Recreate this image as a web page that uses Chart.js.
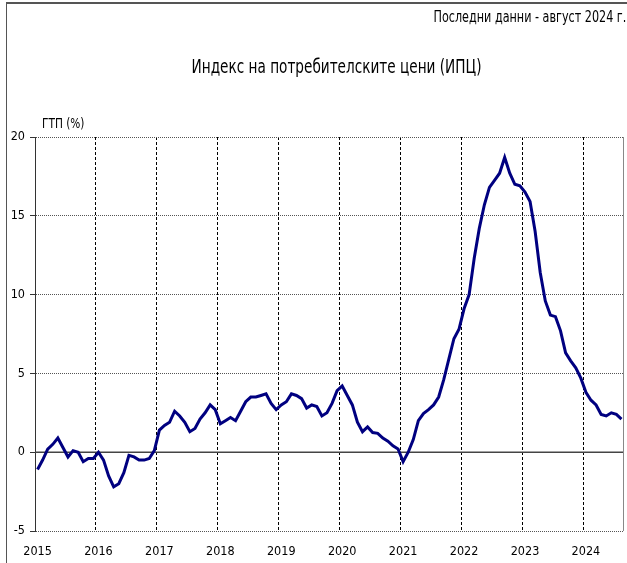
<!DOCTYPE html>
<html>
<head>
<meta charset="utf-8">
<script src="https://cdn.jsdelivr.net/npm/chart.js@4/dist/chart.umd.min.js"></script>
<style>
  html, body { margin: 0; padding: 0; background: #fff; }
  #wrap { position: relative; width: 627px; height: 563px; overflow: hidden; background: #fff; }
  #frame { position: absolute; left: 6px; top: 2px; width: 700px; height: 700px;
           border-left: 1px solid #555; border-top: 2px solid #555; }
  canvas { position: absolute; left: 0; top: 0; }
  .txt { position: absolute; white-space: nowrap; line-height: 1; color: #000;
         font-family: "DejaVu Sans Condensed", "DejaVu Sans", sans-serif; }
  #note { right: 1px; top: 10px; font-size: 15px; transform: scaleX(0.83); transform-origin: 100% 50%; }
  #title { left: 0; width: 673px; text-align: center; top: 56px; font-size: 20px; transform: scaleX(0.758); transform-origin: 50% 50%; }
  #unit { left: 42px; top: 117px; font-size: 13.5px; transform: scaleX(0.87); transform-origin: 0 50%; }
</style>
</head>
<body>
<div id="wrap">
  <div id="frame"></div>
  <canvas id="c" width="627" height="563"></canvas>
  <div class="txt" id="note">Последни данни - август 2024 г.</div>
  <div class="txt" id="title">Индекс на потребителските цени (ИПЦ)</div>
  <div class="txt" id="unit">ГТП (%)</div>
</div>
<script>
// Year labels (ticks) and monthly y/y CPI values (%)
const years = ['2015','2016','2017','2018','2019','2020','2021','2022','2023','2024'];
const cpi2015 = [-1.1, -0.5, 0.2, 0.5, 0.9, 0.3, -0.3, 0.1, 0.0, -0.6, -0.4, -0.4];
const cpi2016 = [0.0, -0.5, -1.5, -2.2, -2.0, -1.3, -0.2, -0.3, -0.5, -0.5, -0.4, 0.1];
const cpi2017 = [1.4, 1.7, 1.9, 2.6, 2.3, 1.9, 1.3, 1.5, 2.1, 2.5, 3.0, 2.7];
const cpi2018 = [1.8, 2.0, 2.2, 2.0, 2.6, 3.2, 3.5, 3.5, 3.6, 3.7, 3.1, 2.7];
const cpi2019 = [3.0, 3.2, 3.7, 3.6, 3.4, 2.8, 3.0, 2.9, 2.3, 2.5, 3.1, 3.9];
const cpi2020 = [4.2, 3.6, 3.0, 1.9, 1.3, 1.6, 1.25, 1.2, 0.9, 0.7, 0.4, 0.2];
const cpi2021 = [-0.6, 0.0, 0.8, 2.0, 2.45, 2.7, 3.0, 3.5, 4.6, 5.9, 7.2, 7.8];
const cpi2022 = [9.1, 10.0, 12.3, 14.2, 15.7, 16.8, 17.25, 17.7, 18.7, 17.7, 17.0, 16.9];
const cpi2023 = [16.5, 15.9, 14.0, 11.4, 9.6, 8.7, 8.6, 7.7, 6.3, 5.8, 5.35, 4.7];
const cpi2024 = [3.8, 3.3, 3.0, 2.4, 2.3, 2.5, 2.4, 2.1];
const yTicks = [-5, 0, 5, 10, 15, 20];

const perYear = [cpi2015, cpi2016, cpi2017, cpi2018, cpi2019, cpi2020, cpi2021, cpi2022, cpi2023, cpi2024];
const labels = [];
const values = [];
perYear.forEach((arr, yi) => {
  arr.forEach((v, m) => { labels.push(years[yi] + '-' + (m + 1)); values.push(v); });
});

const FONT = "'DejaVu Sans Condensed', 'DejaVu Sans', sans-serif";

const extraLines = {
  id: 'extraLines',
  beforeDatasetsDraw(chart) {
    const { ctx, chartArea, scales } = chart;
    const y0 = scales.y.getPixelForValue(0);
    ctx.save();
    ctx.strokeStyle = '#444';
    ctx.lineWidth = 1.5;
    ctx.beginPath();
    ctx.moveTo(chartArea.left, y0);
    ctx.lineTo(chartArea.right, y0);
    ctx.stroke();
    ctx.strokeStyle = '#888';
    ctx.lineWidth = 1;
    ctx.beginPath();
    ctx.moveTo(chartArea.right - 0.5, chartArea.top);
    ctx.lineTo(chartArea.right - 0.5, chartArea.bottom);
    ctx.stroke();
    ctx.restore();
  }
};

new Chart(document.getElementById('c'), {
  type: 'line',
  data: {
    labels: labels,
    datasets: [{
      data: values,
      borderColor: '#000080',
      borderWidth: 3,
      pointRadius: 0,
      tension: 0,
      fill: false
    }]
  },
  options: {
    responsive: false,
    animation: false,
    devicePixelRatio: 1,
    layout: { padding: { top: 137, right: 3, bottom: 0, left: 0 } },
    plugins: { legend: { display: false }, tooltip: { enabled: false }, title: { display: false } },
    scales: {
      x: {
        type: 'category',
        offset: true,
        grid: {
          offset: true,
          drawTicks: false,
          lineWidth: 1,
          color: (c) => (typeof c.index === 'number' && c.index > 0 && c.index % 12 === 0) ? '#000' : 'rgba(0,0,0,0)'
        },
        border: { display: false, dash: [3, 2] },
        ticks: {
          autoSkip: false,
          maxRotation: 0,
          minRotation: 0,
          padding: 13,
          color: '#000',
          font: { family: FONT, size: 12.5 },
          callback: function (val, idx) { return idx % 12 === 0 ? years[idx / 12] : ''; }
        },
        afterFit: (s) => { s.height = 32; s.paddingLeft = 0; s.paddingRight = 0; }
      },
      y: {
        min: yTicks[0],
        max: yTicks[yTicks.length - 1],
        afterBuildTicks: (s) => { s.ticks = yTicks.map(v => ({ value: v })); },
        grid: {
          drawTicks: true,
          tickLength: 5,
          tickColor: '#333',
          lineWidth: 1,
          color: (c) => (c.tick && c.tick.value === 0) ? 'rgba(0,0,0,0)' : '#555'
        },
        border: { display: true, color: '#333', width: 1, dash: [1, 1] },
        ticks: {
          padding: 5,
          color: '#000',
          font: { family: FONT, size: 12.5 }
        },
        afterFit: (s) => { s.width = 35; }
      }
    }
  },
  plugins: [extraLines]
});
</script>
</body>
</html>
